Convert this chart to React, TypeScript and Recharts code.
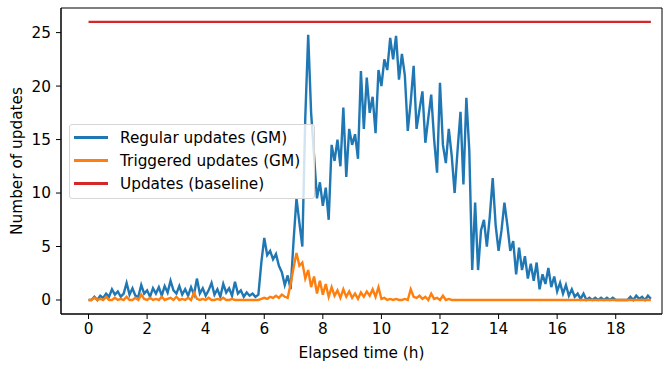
import { LineChart, Line, XAxis, YAxis, Legend, ReferenceArea } from 'recharts'

// regular updates (GM), one value every 0.1 h from 0 to 19.2 h
const regularUpdates = [
  0, 0, 0.3, 0, 0.4, 0.2, 0.6, 0.3, 1.0, 0.5,
  0.8, 0.3, 0.6, 1.6, 0.5, 1.1, 0.4, 0.3, 1.4, 0.6,
  0.9, 0.3, 1.1, 0.6, 1.2, 0.4, 1.3, 0.7, 1.8, 0.9,
  0.6, 1.3, 0.5, 1.0, 0.4, 1.2, 0.5, 2.0, 0.6, 1.1,
  0.4, 0.9, 1.6, 0.5, 1.0, 0.3, 1.5, 0.7, 1.1, 0.4,
  1.7, 0.6, 0.9, 0.3, 0.7, 0.4, 0.6, 0.3, 0.5, 3.5,
  5.8, 4.2, 4.6, 3.8, 4.3, 3.2, 2.6, 1.4, 2.3, 1.0,
  5.5, 9.5, 7.2, 5.0, 17.0, 24.8, 17.5, 13.5, 9.5, 11.0,
  8.8, 10.5, 7.5, 14.5, 13.0, 15.0, 12.5, 18.0, 11.5, 16.0,
  14.5, 15.5, 13.2, 21.4, 16.0, 20.8, 17.5, 19.0, 15.6, 21.5,
  20.0, 22.5, 21.5, 24.5, 22.5, 24.7, 20.6, 23.0, 21.0, 15.8,
  18.5, 21.9, 16.0, 17.8, 19.5, 14.7, 17.0, 19.2, 15.0, 11.9,
  20.3, 14.5, 12.8, 16.0, 13.5, 10.0, 14.0, 17.6, 10.8, 18.9,
  14.0, 2.8, 9.1, 2.8, 6.5, 7.5, 5.0, 7.8, 11.4, 7.0,
  4.6, 6.5, 9.1, 7.0, 4.6, 5.5, 2.4, 4.9, 2.8, 4.1,
  2.0, 3.4, 1.8, 3.5, 1.0, 2.4, 1.5, 3.0, 1.2, 2.2,
  0.8, 1.6, 0.6, 1.4, 0.4, 1.0, 0.3, 0.6, 0.1, 0.6,
  0, 0.2, 0, 0.2, 0, 0.2, 0, 0.2, 0, 0.2,
  0, 0, 0, 0, 0, 0.3, 0, 0.4, 0.1, 0.3,
  0, 0.4, 0.1,
]

// triggered updates (GM), same time steps
const triggeredUpdates = [
  0, 0, 0.2, 0, 0.1, 0, 0.3, 0, 0, 0.2,
  0, 0.1, 0, 0.3, 0, 0, 0.2, 0, 0.5, 0.1,
  0, 0.2, 0, 0.1, 0, 0.3, 0, 0.1, 0.2, 0,
  0.3, 0, 0.1, 0, 0.2, 0, 0.7, 0.1, 0, 0.1,
  0, 0.2, 0, 0, 0.1, 0, 0.2, 0, 0, 0.1,
  0, 0, 0, 0, 0, 0, 0, 0, 0, 0.1,
  0.2, 0.1, 0.3, 0.2, 0.4, 0.2, 0.5, 0.3, 0.2, 1.5,
  3.0, 4.4, 3.2, 3.5, 2.0, 2.8, 1.2, 2.2, 0.6, 1.8,
  0.5, 1.5, 0.3, 1.2, 0.4, 0.9, 0.2, 1.0, 0.3, 0.8,
  0.2, 0.6, 0.1, 0.7, 0.3, 0.8, 0.4, 1.0, 0.3, 1.2,
  0.1, 0.2, 0, 0.1, 0, 0.1, 0, 0, 0.1, 0,
  1.0, 0.3, 0.2, 0.4, 0.1, 0.3, 0, 0.6, 0.1, 0.2,
  0, 0.4, 0, 0.1, 0, 0, 0, 0, 0, 0,
  0, 0, 0, 0, 0, 0, 0, 0, 0, 0,
  0, 0, 0, 0, 0, 0, 0, 0, 0, 0,
  0, 0, 0, 0, 0, 0, 0, 0, 0, 0,
  0, 0, 0, 0, 0, 0, 0, 0, 0, 0,
  0, 0, 0, 0, 0, 0, 0, 0, 0, 0,
  0, 0, 0, 0, 0, 0, 0, 0, 0, 0,
  0, 0, 0,
]

const baselineUpdates = 26

const xTicks = [0, 2, 4, 6, 8, 10, 12, 14, 16, 18]
const yTicks = [0, 5, 10, 15, 20, 25]

const seriesNames = ['Regular updates (GM)', 'Triggered updates (GM)', 'Updates (baseline)']
const seriesColors = ['#1f77b4', '#ff7f0e', '#d62728']

const X_DOMAIN: [number, number] = [-0.94, 19.58]
const Y_DOMAIN: [number, number] = [-1.31, 27.3]

const data = regularUpdates.map((v, i) => ({
  hours: i / 10,
  regular: v,
  triggered: triggeredUpdates[i],
  baseline: baselineUpdates,
}))

const FONT = '"DejaVu Sans", sans-serif'
const FONT_SIZE = 15.3

const renderLegend = () => (
  <div
    style={{
      width: 244,
      height: 72,
      border: '1px solid #d6d6d6',
      borderRadius: 3,
      background: 'rgba(255,255,255,0.8)',
      paddingTop: 1,
      fontFamily: FONT,
      fontSize: FONT_SIZE,
      color: '#000',
    }}
  >
    {seriesNames.map((name, i) => (
      <div key={name} style={{ display: 'flex', alignItems: 'center', height: 23 }}>
        <div style={{ marginLeft: 4, width: 34, height: 2.5, background: seriesColors[i] }} />
        <span style={{ marginLeft: 12, whiteSpace: 'nowrap' }}>{name}</span>
      </div>
    ))}
  </div>
)

export default function App() {
  const tickStyle = { fontSize: FONT_SIZE, fill: '#000', fontFamily: FONT }

  return (
    <div style={{ position: 'absolute', left: 0, top: 0, width: 670, height: 367, background: '#fff' }}>
      <LineChart width={670} height={367} data={data} margin={{ top: 8, right: 8, left: 0, bottom: 0 }}>
        <XAxis
          dataKey="hours"
          type="number"
          domain={X_DOMAIN}
          allowDataOverflow
          ticks={xTicks}
          height={53}
          tick={tickStyle}
          tickSize={5}
          tickMargin={4}
          stroke="#000"
          label={() => (
            <text x={361.5} y={358} textAnchor="middle" fontSize={FONT_SIZE} fontFamily={FONT} fill="#000">
              Elapsed time (h)
            </text>
          )}
        />
        <YAxis
          type="number"
          domain={Y_DOMAIN}
          allowDataOverflow
          ticks={yTicks}
          width={61}
          tick={tickStyle}
          tickSize={5}
          tickMargin={5}
          stroke="#000"
          label={() => (
            <text
              x={17}
              y={161}
              transform="rotate(-90 17 161)"
              textAnchor="middle"
              dominantBaseline="central"
              fontSize={FONT_SIZE}
              fontFamily={FONT}
              fill="#000"
            >
              Number of updates
            </text>
          )}
        />
        <ReferenceArea
          x1={X_DOMAIN[0]}
          x2={X_DOMAIN[1]}
          y1={Y_DOMAIN[0]}
          y2={Y_DOMAIN[1]}
          fill="none"
          stroke="#000"
          strokeWidth={1}
          ifOverflow="visible"
        />
        <Line type="linear" dataKey="regular" stroke={seriesColors[0]} strokeWidth={2.4} dot={false} isAnimationActive={false} />
        <Line type="linear" dataKey="triggered" stroke={seriesColors[1]} strokeWidth={2.4} dot={false} isAnimationActive={false} />
        <Line type="linear" dataKey="baseline" stroke={seriesColors[2]} strokeWidth={2.4} dot={false} isAnimationActive={false} />
        <Legend
          content={renderLegend}
          layout="vertical"
          align="center"
          verticalAlign="middle"
          wrapperStyle={{ left: 69, top: 124, width: 246, height: 74 }}
        />
      </LineChart>
    </div>
  )
}
